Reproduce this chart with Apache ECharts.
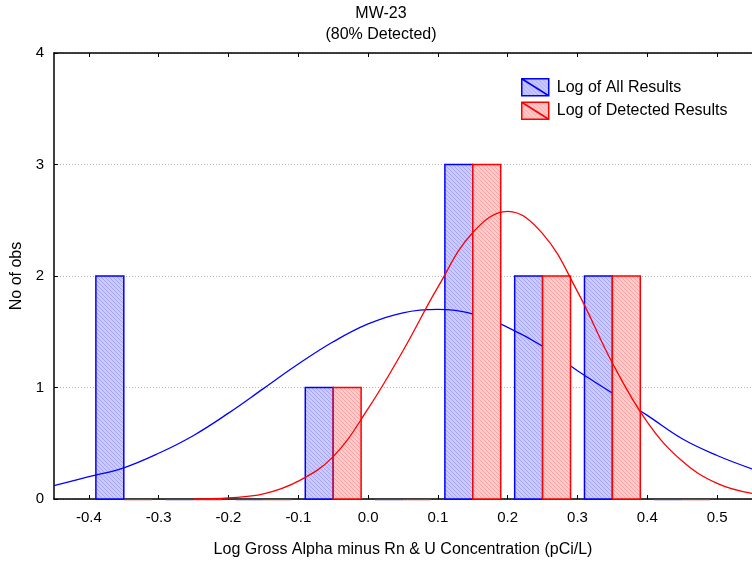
<!DOCTYPE html>
<html>
<head>
<meta charset="utf-8">
<script src="https://cdn.jsdelivr.net/npm/echarts@6/dist/echarts.min.js"></script>
<style>html,body{margin:0;padding:0;background:#fff}#c{width:752px;height:563px}</style>
</head>
<body>
<div id="c"></div>
<script>
// ---- data ----
const titleLines = ['MW-23', '(80% Detected)'];
const xAxisName = 'Log Gross Alpha minus Rn & U Concentration (pCi/L)';
const yAxisName = 'No of obs';
const seriesNames = ['Log of All Results', 'Log of Detected Results'];
const binCenters = [-0.35, -0.25, -0.15, -0.05, 0.05, 0.15, 0.25, 0.35, 0.45];
const allCounts = [2, 0, 0, 1, 0, 3, 2, 2, 0];
const detectedCounts = [0, 0, 0, 1, 0, 3, 2, 2, 0];
const curveX = [-0.45, -0.4, -0.35, -0.3, -0.25, -0.2, -0.15, -0.1, -0.05, 0, 0.05, 0.1, 0.15, 0.2, 0.25, 0.3, 0.35, 0.4, 0.45, 0.5, 0.55];
const allCurve = [0.12, 0.20, 0.28, 0.41, 0.57, 0.77, 0.99, 1.21, 1.41, 1.57, 1.67, 1.70, 1.66, 1.54, 1.37, 1.15, 0.95, 0.75, 0.54, 0.39, 0.27];
const detCurveX = [-0.25, -0.2, -0.15, -0.1, -0.05, 0, 0.05, 0.1, 0.15, 0.2, 0.25, 0.3, 0.35, 0.4, 0.45, 0.5, 0.55];
const detCurve = [0.0, 0.01, 0.045, 0.16, 0.38, 0.81, 1.33, 1.90, 2.39, 2.58, 2.38, 1.86, 1.22, 0.69, 0.34, 0.14, 0.05];
const xMin = -0.45, xMax = 0.55;
const xTicks = [-0.4, -0.3, -0.2, -0.1, 0.0, 0.1, 0.2, 0.3, 0.4, 0.5];
const yTicks = [0, 1, 2, 3, 4];

// ---- styles ----
const FONT = '"Liberation Sans", Arial, sans-serif';
const HALF = 0.04;
function hatch(bg, line) {
  const c = document.createElement('canvas'); c.width = 4; c.height = 4;
  const g = c.getContext('2d');
  g.fillStyle = bg; g.fillRect(0, 0, 4, 4);
  g.strokeStyle = line; g.lineWidth = 1;
  g.beginPath();
  g.moveTo(-1, -1); g.lineTo(5, 5);
  g.moveTo(-1, 3); g.lineTo(1, 5);
  g.moveTo(3, -1); g.lineTo(5, 1);
  g.stroke();
  return c;
}
const bluePat = { image: hatch('#cacaff', '#a6a6f2'), repeat: 'repeat' };
const redPat = { image: hatch('#ffcaca', '#f2a6a6'), repeat: 'repeat' };

function barSeries(name, counts, offset, fill, stroke, faint, z) {
  return {
    type: 'custom', name: name, z: z,
    data: binCenters.map((c, i) => [c + offset, counts[i]]),
    renderItem: function (params, api) {
      const x0 = api.value(0), v = api.value(1);
      const p0 = api.coord([x0, 0]);
      const p1 = api.coord([x0 + HALF, v]);
      if (v === 0) {
        return { type: 'line', z2: -1, shape: { x1: p0[0], y1: p0[1] + 1, x2: p1[0], y2: p0[1] + 1 }, style: { stroke: faint, lineWidth: 1.5 } };
      }
      return {
        type: 'rect',
        shape: { x: p0[0], y: p1[1], width: p1[0] - p0[0], height: p0[1] - p1[1] },
        style: { fill: fill, stroke: stroke, lineWidth: 1.5 }
      };
    }
  };
}

const chart = echarts.init(document.getElementById('c'), null, { renderer: 'canvas' });
const iconPath = 'path://M0,0 L27,0 L27,17 L0,17 Z M0,0 L27,17';
chart.setOption({
  animation: false,
  textStyle: { fontFamily: FONT },
  title: {
    text: titleLines.join('\n'),
    left: 381, top: 3.5, textAlign: 'center', padding: 0,
    textStyle: { fontSize: 16, fontWeight: 'normal', color: '#000', lineHeight: 20.5, fontFamily: FONT }
  },
  legend: {
    orient: 'vertical', left: 521, top: 78, padding: 0,
    itemWidth: 27, itemHeight: 17, itemGap: 5,
    textStyle: { fontSize: 16, color: '#000', fontFamily: FONT, padding: [0, 0, 0, 3] },
    data: [
      { name: seriesNames[0], icon: iconPath, itemStyle: { color: bluePat, borderColor: '#0000ff', borderWidth: 1.5 } },
      { name: seriesNames[1], icon: iconPath, itemStyle: { color: redPat, borderColor: '#ff0000', borderWidth: 1.5 } }
    ]
  },
  grid: { left: 54, right: -5, top: 53, bottom: 63 },
  xAxis: [{
    type: 'value', min: xMin, max: xMax,
    name: xAxisName, nameLocation: 'middle', nameGap: 43,
    nameTextStyle: { fontSize: 16, color: '#000', fontFamily: FONT },
    axisLine: { onZero: false, lineStyle: { color: '#000', width: 1.5 } },
    axisTick: { inside: true, length: 4, customValues: xTicks, lineStyle: { color: '#000' } },
    axisLabel: {
      fontSize: 15, color: '#000', margin: 11, fontFamily: FONT,
      customValues: xTicks,
      formatter: v => v.toFixed(1)
    },
    splitLine: { show: false }
  }, {
    type: 'value', position: 'top', min: xMin, max: xMax,
    axisLine: { onZero: false, lineStyle: { color: '#000', width: 1.5 } },
    axisTick: { inside: true, length: 4, customValues: xTicks, lineStyle: { color: '#000' } },
    axisLabel: { show: false }, splitLine: { show: false }
  }],
  yAxis: {
    type: 'value', min: yTicks[0], max: yTicks[yTicks.length - 1], interval: 1,
    name: yAxisName, nameLocation: 'middle', nameGap: 28,
    nameTextStyle: { fontSize: 16, color: '#000', fontFamily: FONT },
    axisLine: { show: true, onZero: false, lineStyle: { color: '#000', width: 1.5 } },
    axisTick: { show: true, inside: true, length: 4, lineStyle: { color: '#000' } },
    axisLabel: { fontSize: 15, color: '#000', margin: 10, fontFamily: FONT },
    splitLine: { show: true, lineStyle: { color: '#b4b4b4', type: [1, 2], width: 1 } }
  },
  series: [
    barSeries(seriesNames[0], allCounts, -HALF, bluePat, '#0000ff', 'rgba(110,110,200,0.45)', 2),
    {
      type: 'line', name: 'allCurve', z: 3, smooth: 0.4, symbol: 'none', silent: true,
      data: curveX.map((x, i) => [x, allCurve[i]]),
      lineStyle: { color: '#0000ff', width: 1.3 }
    },
    barSeries(seriesNames[1], detectedCounts, 0, redPat, '#ff0000', 'rgba(220,120,120,0.45)', 4),
    {
      type: 'line', name: 'detCurve', z: 5, smooth: 0.4, symbol: 'none', silent: true,
      data: detCurveX.map((x, i) => [x, detCurve[i]]),
      lineStyle: { color: '#ff0000', width: 1.3 }
    }
  ]
});
</script>
</body>
</html>
